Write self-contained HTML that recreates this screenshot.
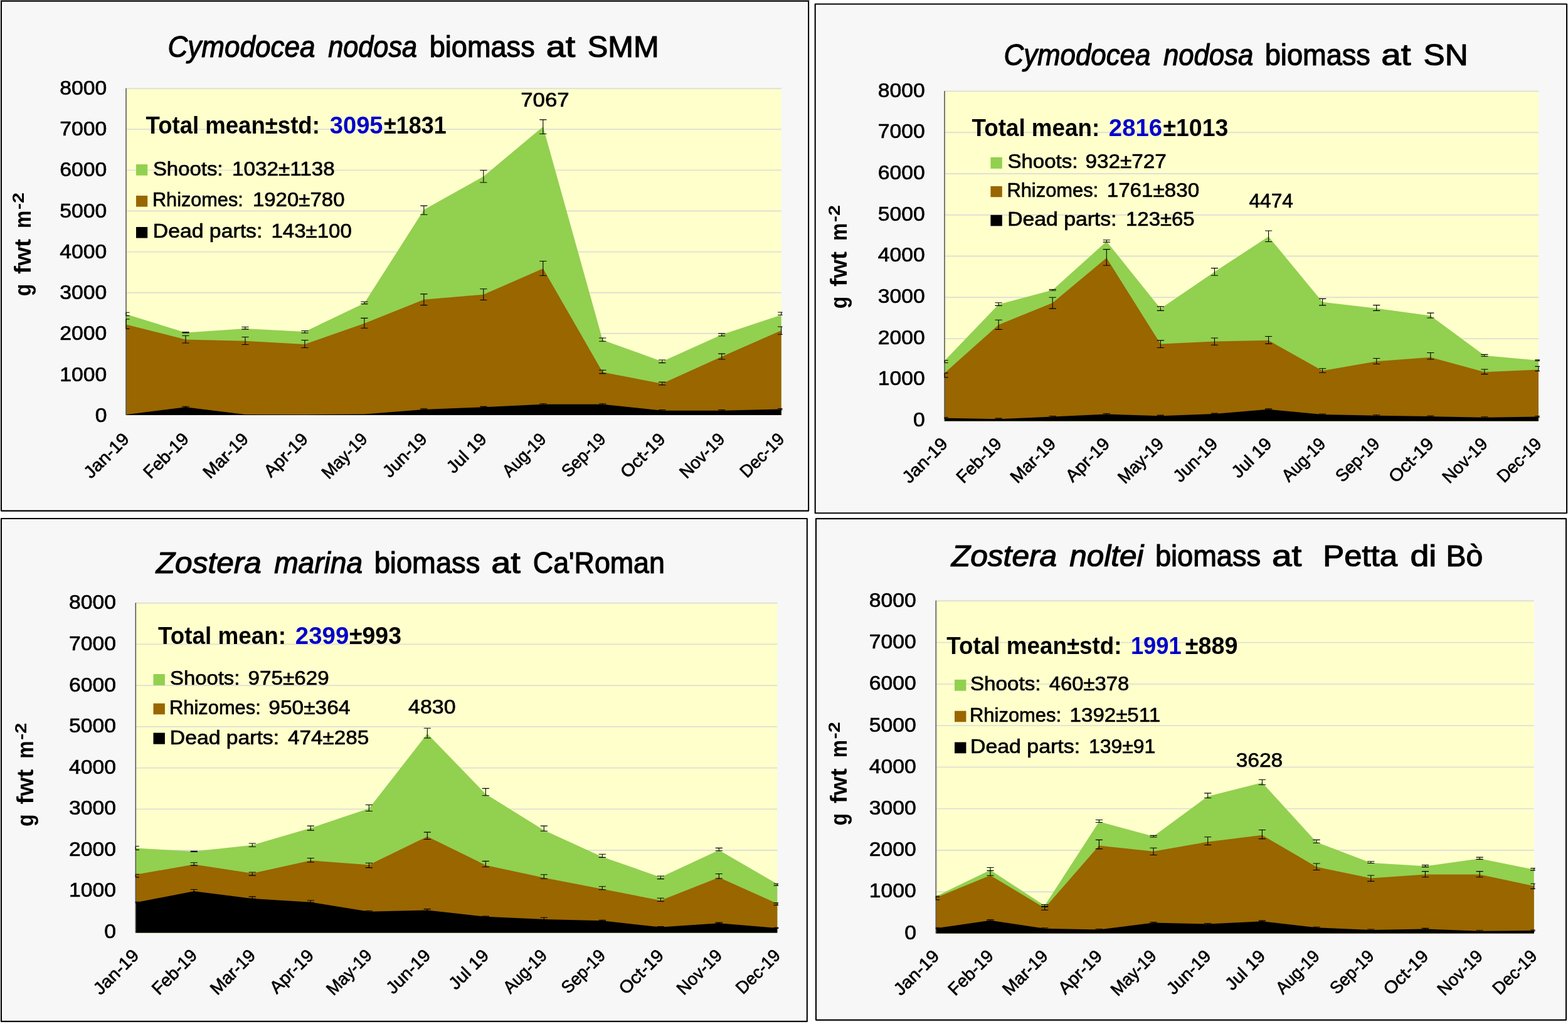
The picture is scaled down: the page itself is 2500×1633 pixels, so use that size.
<!DOCTYPE html>
<html lang="en"><head><meta charset="utf-8"><title>Seagrass biomass at four stations, 2019</title>
<style>html,body{margin:0;padding:0;background:#fff}body{width:2500px;height:1633px}svg{display:block}text{font-family:'Liberation Sans', sans-serif;fill:#000;stroke:#000;stroke-linejoin:round;paint-order:stroke}.title{font-size:47.5px;stroke-width:1.2}.total{font-size:39px;stroke-width:0}.legend{font-size:31px;stroke-width:0.7}.ytick{font-size:32px;stroke-width:0.7}.peak{font-size:31.5px;stroke-width:0.7}.xtick{font-size:28px;stroke-width:0.7}.ylabel{font-size:37.5px;stroke-width:0}.ysup{font-size:25px;stroke-width:0}</style>
</head><body>
<svg width="2500" height="1633" viewBox="0 0 2500 1633">
<rect width="2500" height="1633" fill="#fff"/>
<rect x="0" y="0" width="1291" height="1" fill="#aaa"/>
<g>
<rect x="2" y="1.7" width="1287.1" height="812.9" fill="#fff" stroke="#000" stroke-width="2.1" stroke-linejoin="round"/>
<rect x="4.7" y="4.4" width="1281.7" height="807.5" fill="#f7f7f7"/>
<rect x="201" y="141.2" width="1044.7" height="520.8" fill="#ffffcc"/>
<path d="M201 141.2H1245.7M201 206.3H1245.7M201 271.4H1245.7M201 336.5H1245.7M201 401.6H1245.7M201 466.7H1245.7M201 531.8H1245.7M201 596.9H1245.7" stroke="#e0e0d4" stroke-width="1.9" fill="none"/>
<polygon points="201,501.01 295.97,530.51 390.95,523.93 485.92,528.92 580.89,483.54 675.86,334.49 770.84,281.42 865.81,201.99 960.78,542.16 1055.75,576.47 1150.73,533.67 1245.7,502.18 1245.7,662 201,662" fill="#92d050"/>
<polygon points="201,517.57 295.97,541.4 390.95,543.67 485.92,548.89 580.89,515.76 675.86,477.77 770.84,469.63 865.81,428.24 960.78,593.45 1055.75,611.85 1150.73,568.69 1245.7,526.94 1245.7,662 201,662" fill="#996600"/>
<polygon points="201,661.21 295.97,649.18 390.95,660.98 485.92,661.21 580.89,660.53 675.86,652.89 770.84,649.35 865.81,644.75 960.78,644.75 1055.75,654.66 1150.73,654.66 1245.7,652.54 1245.7,662 201,662" fill="#000000"/>
<path d="M201 140.7V662" stroke="#595959" stroke-width="1.6" fill="none"/>
<path d="M201 498.28V503.5M201 498.28H206.6M201 503.5H206.6M295.97 529.6V530.96M290.37 529.6H301.57M290.37 530.96H301.57M390.95 521.43V524.83M385.35 521.43H396.55M385.35 524.83H396.55M485.92 527.56V530.96M480.32 527.56H491.52M480.32 530.96H491.52M580.89 481.27V484.67M575.29 481.27H586.49M575.29 484.67H586.49M675.86 328.12V342.27M670.26 328.12H681.46M670.26 342.27H681.46M770.84 271.51V290.97M765.24 271.51H776.44M765.24 290.97H776.44M865.81 190.85V213.49M860.21 190.85H871.41M860.21 213.49H871.41M960.78 538.97V544.28M955.18 538.97H966.38M955.18 544.28H966.38M1055.75 574V578.6M1050.15 574H1061.35M1050.15 578.6H1061.35M1150.73 531.9V535.79M1145.13 531.9H1156.33M1145.13 535.79H1156.33M1245.7 497.93V502.18M1240.1 497.93H1247.7M1240.1 502.18H1247.7M201 508.95V524.38M201 508.95H206.6M201 524.38H206.6M295.97 535.27V547.07M290.37 535.27H301.57M290.37 547.07H301.57M390.95 537.54V549.57M385.35 537.54H396.55M385.35 549.57H396.55M485.92 542.53V554.56M480.32 542.53H491.52M480.32 554.56H491.52M580.89 507.36V523.24M575.29 507.36H586.49M575.29 523.24H586.49M675.86 468.92V486.61M670.26 468.92H681.46M670.26 486.61H681.46M770.84 460.79V478.48M765.24 460.79H776.44M765.24 478.48H776.44M865.81 416.56V439.56M860.21 416.56H871.41M860.21 439.56H871.41M960.78 590.27V595.58M955.18 590.27H966.38M955.18 595.58H966.38M1055.75 609.37V613.97M1050.15 609.37H1061.35M1050.15 613.97H1061.35M1150.73 564.09V572.93M1145.13 564.09H1156.33M1145.13 572.93H1156.33M1245.7 520.93V533.31M1240.1 520.93H1247.7M1240.1 533.31H1247.7M295.97 648.18V650.18M290.37 648.18H301.57M290.37 650.18H301.57M675.86 651.89V653.89M670.26 651.89H681.46M670.26 653.89H681.46M770.84 648.35V650.35M765.24 648.35H776.44M765.24 650.35H776.44M865.81 643.75V645.75M860.21 643.75H871.41M860.21 645.75H871.41M960.78 643.75V645.75M955.18 643.75H966.38M955.18 645.75H966.38M1055.75 653.66V655.66M1050.15 653.66H1061.35M1050.15 655.66H1061.35M1150.73 653.66V655.66M1145.13 653.66H1156.33M1145.13 655.66H1156.33M1245.7 651.54V653.54M1240.1 651.54H1247.7M1240.1 653.54H1247.7" stroke="#000" stroke-width="1.1" fill="none"/>
<text class="ytick" transform="translate(95.28 150.9) scale(1.0548 1)">8000</text>
<text class="ytick" transform="translate(95.28 216.15) scale(1.0548 1)">7000</text>
<text class="ytick" transform="translate(95.28 281.4) scale(1.0548 1)">6000</text>
<text class="ytick" transform="translate(95.28 346.65) scale(1.0548 1)">5000</text>
<text class="ytick" transform="translate(95.28 411.9) scale(1.0548 1)">4000</text>
<text class="ytick" transform="translate(95.28 477.15) scale(1.0548 1)">3000</text>
<text class="ytick" transform="translate(95.28 542.4) scale(1.0548 1)">2000</text>
<text class="ytick" transform="translate(95.28 607.65) scale(1.0548 1)">1000</text>
<text class="ytick" transform="translate(151.65 672.9) scale(1.0548 1)">0</text>
<text class="xtick" transform="translate(206.8 702.8) rotate(-45) scale(1.0374 1)" x="-84.28">Jan-19</text>
<text class="xtick" transform="translate(301.77 702.8) rotate(-45) scale(0.9986 1)" x="-87.36">Feb-19</text>
<text class="xtick" transform="translate(396.75 702.8) rotate(-45) scale(0.9986 1)" x="-87.36">Mar-19</text>
<text class="xtick" transform="translate(491.72 702.8) rotate(-45) scale(1.0213 1)" x="-82.74">Apr-19</text>
<text class="xtick" transform="translate(586.69 702.8) rotate(-45) scale(0.9591 1)" x="-92.12">May-19</text>
<text class="xtick" transform="translate(681.66 702.8) rotate(-45) scale(1.0100 1)" x="-84.28">Jun-19</text>
<text class="xtick" transform="translate(776.64 702.8) rotate(-45) scale(1.0282 1)" x="-73.36">Jul 19</text>
<text class="xtick" transform="translate(871.61 702.8) rotate(-45) scale(0.9434 1)" x="-89.04">Aug-19</text>
<text class="xtick" transform="translate(966.58 702.8) rotate(-45) scale(0.9490 1)" x="-89.04">Sep-19</text>
<text class="xtick" transform="translate(1061.55 702.8) rotate(-45) scale(1.0457 1)" x="-82.74">Oct-19</text>
<text class="xtick" transform="translate(1156.53 702.8) rotate(-45) scale(0.9816 1)" x="-89.04">Nov-19</text>
<text class="xtick" transform="translate(1251.5 702.8) rotate(-45) scale(0.9608 1)" x="-89.04">Dec-19</text>
<text class="ylabel" font-weight="bold" transform="translate(48.8 471) rotate(-90)"><tspan x="-1.28" textLength="19.6" lengthAdjust="spacingAndGlyphs">g</tspan> <tspan x="34.02" textLength="55.92" lengthAdjust="spacingAndGlyphs">fwt</tspan> <tspan x="106.94" textLength="28.24" lengthAdjust="spacingAndGlyphs">m</tspan><tspan x="136.78" textLength="27.11" lengthAdjust="spacingAndGlyphs" dy="-11.3" font-size="25">-2</tspan></text>
<text class="title" y="91.3"><tspan x="267.58" textLength="234.8" lengthAdjust="spacingAndGlyphs" font-style="italic">Cymodocea</tspan> <tspan x="523.25" textLength="141.79" lengthAdjust="spacingAndGlyphs" font-style="italic">nodosa</tspan> <tspan x="684.67" textLength="168.05" lengthAdjust="spacingAndGlyphs">biomass</tspan> <tspan x="870.67" textLength="46.53" lengthAdjust="spacingAndGlyphs">at</tspan> <tspan x="936.8" textLength="113.85" lengthAdjust="spacingAndGlyphs">SMM</tspan></text>
<text class="total" font-weight="bold" y="213.3"><tspan x="232.53" textLength="277.29" lengthAdjust="spacingAndGlyphs">Total mean±std:</tspan> <tspan x="525.85" textLength="84.69" lengthAdjust="spacingAndGlyphs" style="fill:#0000cc;stroke:#0000cc">3095</tspan><tspan x="612.1" textLength="99.52" lengthAdjust="spacingAndGlyphs">±1831</tspan></text>
<rect x="217" y="262.1" width="18.2" height="17.7" fill="#92d050"/>
<text class="legend" y="280.3"><tspan x="243.92" textLength="111.58" lengthAdjust="spacingAndGlyphs">Shoots:</tspan> <tspan x="370.01" textLength="163.69" lengthAdjust="spacingAndGlyphs">1032±1138</tspan></text>
<rect x="217" y="312" width="18.2" height="17.7" fill="#996600"/>
<text class="legend" y="329"><tspan x="242.95" textLength="144.82" lengthAdjust="spacingAndGlyphs">Rhizomes:</tspan> <tspan x="402.92" textLength="146.59" lengthAdjust="spacingAndGlyphs">1920±780</tspan></text>
<rect x="217" y="362" width="18.2" height="17.6" fill="#000000"/>
<text class="legend" y="379"><tspan x="243.8" textLength="174.49" lengthAdjust="spacingAndGlyphs">Dead parts:</tspan> <tspan x="432.42" textLength="128.46" lengthAdjust="spacingAndGlyphs">143±100</tspan></text>
<text class="peak" transform="translate(830.26 169.6) scale(1.1055 1)">7067</text>
</g>
<g>
<rect x="1299.7" y="6.5" width="1198.3" height="811.8" fill="#fff" stroke="#000" stroke-width="2.1" stroke-linejoin="round"/>
<rect x="1302.4" y="9.2" width="1192.9" height="806.4" fill="#f7f7f7"/>
<rect x="1506" y="145.5" width="947" height="526.1" fill="#ffffcc"/>
<path d="M1506 145.5H2453M1506 211.26H2453M1506 277.02H2453M1506 342.79H2453M1506 408.55H2453M1506 474.31H2453M1506 540.08H2453M1506 605.84H2453" stroke="#e0e0d4" stroke-width="1.9" fill="none"/>
<polygon points="1506,575.24 1592.09,485.58 1678.18,462.62 1764.27,384.99 1850.36,492.14 1936.45,433.53 2022.55,377.33 2108.64,481.64 2194.73,491.7 2280.82,503.51 2366.91,566.93 2453,574.8 2453,671.6 1506,671.6" fill="#92d050"/>
<polygon points="1506,594.92 1592.09,517.94 1678.18,482.95 1764.27,411.23 1850.36,548.56 1936.45,544.62 2022.55,542.87 2108.64,591.2 2194.73,576.33 2280.82,569.77 2366.91,593.17 2453,589.45 2453,671.6 1506,671.6" fill="#996600"/>
<polygon points="1506,666.64 1592.09,668.17 1678.18,664.45 1764.27,660.52 1850.36,663.14 1936.45,660.08 2022.55,652.86 2108.64,660.96 2194.73,662.71 2280.82,664.02 2366.91,665.77 2453,664.45 2453,671.6 1506,671.6" fill="#000000"/>
<path d="M1506 145V671.6" stroke="#595959" stroke-width="1.6" fill="none"/>
<path d="M1506 574.8V578.52M1506 574.8H1511.6M1506 578.52H1511.6M1592.09 482.74V487.33M1586.49 482.74H1597.69M1586.49 487.33H1597.69M1678.18 461.52V463.27M1672.58 461.52H1683.78M1672.58 463.27H1683.78M1764.27 382.8V386.08M1758.67 382.8H1769.87M1758.67 386.08H1769.87M1850.36 488.86V495.42M1844.76 488.86H1855.96M1844.76 495.42H1855.96M1936.45 427.63V439.22M1930.85 427.63H1942.05M1930.85 439.22H1942.05M2022.55 367.93V385.43M2016.95 367.93H2028.15M2016.95 385.43H2028.15M2108.64 476.39V486.89M2103.04 476.39H2114.24M2103.04 486.89H2114.24M2194.73 486.67V495.42M2189.13 486.67H2200.33M2189.13 495.42H2200.33M2280.82 499.14V507.01M2275.22 499.14H2286.42M2275.22 507.01H2286.42M2366.91 565.39V568.24M2361.31 565.39H2372.51M2361.31 568.24H2372.51M2453 573.92V575.45M2447.4 573.92H2455M2447.4 575.45H2455M1506 594.92V601.91M1506 594.92H1511.6M1506 601.91H1511.6M1592.09 510.29V525.38M1586.49 510.29H1597.69M1586.49 525.38H1597.69M1678.18 474.21V492.14M1672.58 474.21H1683.78M1672.58 492.14H1683.78M1764.27 397.67V423.26M1758.67 397.67H1769.87M1758.67 423.26H1769.87M1850.36 542.87V554.46M1844.76 542.87H1855.96M1844.76 554.46H1855.96M1936.45 538.94V550.31M1930.85 538.94H1942.05M1930.85 550.31H1942.05M2022.55 536.53V548.12M2016.95 536.53H2028.15M2016.95 548.12H2028.15M2108.64 587.7V594.26M2103.04 587.7H2114.24M2103.04 594.26H2114.24M2194.73 571.52V580.48M2189.13 571.52H2200.33M2189.13 580.48H2200.33M2280.82 562.55V573.05M2275.22 562.55H2286.42M2275.22 573.05H2286.42M2366.91 589.01V596.67M2361.31 589.01H2372.51M2361.31 596.67H2372.51M2453 584.42V591.64M2447.4 584.42H2455M2447.4 591.64H2455M1506 665.64V667.64M1506 665.64H1511.6M1506 667.64H1511.6M1592.09 667.17V669.17M1586.49 667.17H1597.69M1586.49 669.17H1597.69M1678.18 663.45V665.45M1672.58 663.45H1683.78M1672.58 665.45H1683.78M1764.27 659.52V661.52M1758.67 659.52H1769.87M1758.67 661.52H1769.87M1850.36 662.14V664.14M1844.76 662.14H1855.96M1844.76 664.14H1855.96M1936.45 659.08V661.08M1930.85 659.08H1942.05M1930.85 661.08H1942.05M2022.55 651.86V653.86M2016.95 651.86H2028.15M2016.95 653.86H2028.15M2108.64 659.96V661.96M2103.04 659.96H2114.24M2103.04 661.96H2114.24M2194.73 661.71V663.71M2189.13 661.71H2200.33M2189.13 663.71H2200.33M2280.82 663.02V665.02M2275.22 663.02H2286.42M2275.22 665.02H2286.42M2366.91 664.77V666.77M2361.31 664.77H2372.51M2361.31 666.77H2372.51M2453 663.45V665.45M2447.4 663.45H2455M2447.4 665.45H2455" stroke="#000" stroke-width="1.1" fill="none"/>
<text class="ytick" transform="translate(1399.68 154.5) scale(1.0548 1)">8000</text>
<text class="ytick" transform="translate(1399.68 220.2) scale(1.0548 1)">7000</text>
<text class="ytick" transform="translate(1399.68 285.9) scale(1.0548 1)">6000</text>
<text class="ytick" transform="translate(1399.68 351.6) scale(1.0548 1)">5000</text>
<text class="ytick" transform="translate(1399.68 417.3) scale(1.0548 1)">4000</text>
<text class="ytick" transform="translate(1399.68 483) scale(1.0548 1)">3000</text>
<text class="ytick" transform="translate(1399.68 548.7) scale(1.0548 1)">2000</text>
<text class="ytick" transform="translate(1399.68 614.4) scale(1.0548 1)">1000</text>
<text class="ytick" transform="translate(1456.05 680.1) scale(1.0548 1)">0</text>
<text class="xtick" transform="translate(1511.8 710.4) rotate(-45) scale(1.0374 1)" x="-84.28">Jan-19</text>
<text class="xtick" transform="translate(1597.89 710.4) rotate(-45) scale(0.9986 1)" x="-87.36">Feb-19</text>
<text class="xtick" transform="translate(1683.98 710.4) rotate(-45) scale(0.9986 1)" x="-87.36">Mar-19</text>
<text class="xtick" transform="translate(1770.07 710.4) rotate(-45) scale(1.0213 1)" x="-82.74">Apr-19</text>
<text class="xtick" transform="translate(1856.16 710.4) rotate(-45) scale(0.9591 1)" x="-92.12">May-19</text>
<text class="xtick" transform="translate(1942.25 710.4) rotate(-45) scale(1.0100 1)" x="-84.28">Jun-19</text>
<text class="xtick" transform="translate(2028.35 710.4) rotate(-45) scale(1.0282 1)" x="-73.36">Jul 19</text>
<text class="xtick" transform="translate(2114.44 710.4) rotate(-45) scale(0.9434 1)" x="-89.04">Aug-19</text>
<text class="xtick" transform="translate(2200.53 710.4) rotate(-45) scale(0.9490 1)" x="-89.04">Sep-19</text>
<text class="xtick" transform="translate(2286.62 710.4) rotate(-45) scale(1.0457 1)" x="-82.74">Oct-19</text>
<text class="xtick" transform="translate(2372.71 710.4) rotate(-45) scale(0.9816 1)" x="-89.04">Nov-19</text>
<text class="xtick" transform="translate(2458.8 710.4) rotate(-45) scale(0.9608 1)" x="-89.04">Dec-19</text>
<text class="ylabel" font-weight="bold" transform="translate(1350.2 491) rotate(-90)"><tspan x="-1.28" textLength="19.6" lengthAdjust="spacingAndGlyphs">g</tspan> <tspan x="34.02" textLength="55.92" lengthAdjust="spacingAndGlyphs">fwt</tspan> <tspan x="106.94" textLength="28.24" lengthAdjust="spacingAndGlyphs">m</tspan><tspan x="136.78" textLength="27.11" lengthAdjust="spacingAndGlyphs" dy="-11.3" font-size="25">-2</tspan></text>
<text class="title" y="103.9"><tspan x="1600.49" textLength="233.89" lengthAdjust="spacingAndGlyphs" font-style="italic">Cymodocea</tspan> <tspan x="1854.94" textLength="143.42" lengthAdjust="spacingAndGlyphs" font-style="italic">nodosa</tspan> <tspan x="2016.76" textLength="168.16" lengthAdjust="spacingAndGlyphs">biomass</tspan> <tspan x="2202.24" textLength="47.17" lengthAdjust="spacingAndGlyphs">at</tspan> <tspan x="2269.5" textLength="71.11" lengthAdjust="spacingAndGlyphs">SN</tspan></text>
<text class="total" font-weight="bold" y="217"><tspan x="1549.53" textLength="203.66" lengthAdjust="spacingAndGlyphs">Total mean:</tspan> <tspan x="1767.86" textLength="85.17" lengthAdjust="spacingAndGlyphs" style="fill:#0000cc;stroke:#0000cc">2816</tspan><tspan x="1854.57" textLength="103.67" lengthAdjust="spacingAndGlyphs">±1013</tspan></text>
<rect x="1579.4" y="250.8" width="18.4" height="18.1" fill="#92d050"/>
<text class="legend" y="268.4"><tspan x="1606.41" textLength="112.1" lengthAdjust="spacingAndGlyphs">Shoots:</tspan> <tspan x="1730.4" textLength="129.29" lengthAdjust="spacingAndGlyphs">932±727</tspan></text>
<rect x="1579.4" y="296.9" width="18.4" height="17.4" fill="#996600"/>
<text class="legend" y="313.8"><tspan x="1605.43" textLength="145.76" lengthAdjust="spacingAndGlyphs">Rhizomes:</tspan> <tspan x="1764.71" textLength="147.41" lengthAdjust="spacingAndGlyphs">1761±830</tspan></text>
<rect x="1579.4" y="342.8" width="18.4" height="17.6" fill="#000000"/>
<text class="legend" y="360.4"><tspan x="1606.2" textLength="174.28" lengthAdjust="spacingAndGlyphs">Dead parts:</tspan> <tspan x="1795.03" textLength="109.68" lengthAdjust="spacingAndGlyphs">123±65</tspan></text>
<text class="peak" transform="translate(1991.47 331.4) scale(1.0042 1)">4474</text>
</g>
<g>
<rect x="2" y="827" width="1284.8" height="801.9" fill="#fff" stroke="#000" stroke-width="2.1" stroke-linejoin="round"/>
<rect x="4.7" y="829.7" width="1279.4" height="796.5" fill="#f7f7f7"/>
<rect x="216.3" y="961.7" width="1023" height="525.8" fill="#ffffcc"/>
<path d="M216.3 961.7H1239.3M216.3 1027.42H1239.3M216.3 1093.15H1239.3M216.3 1158.88H1239.3M216.3 1224.6H1239.3M216.3 1290.33H1239.3M216.3 1356.05H1239.3M216.3 1421.78H1239.3" stroke="#e0e0d4" stroke-width="1.9" fill="none"/>
<polygon points="216.3,1352.57 309.3,1357.67 402.3,1347.71 495.3,1320.62 588.3,1289.36 681.3,1170.1 774.3,1266.2 867.3,1324.09 960.3,1366.47 1053.3,1398.89 1146.3,1355.82 1239.3,1409.77 1239.3,1487.5 216.3,1487.5" fill="#92d050"/>
<polygon points="216.3,1394.72 309.3,1378.51 402.3,1392.87 495.3,1372.26 588.3,1379.2 681.3,1334.05 774.3,1379.67 867.3,1399.81 960.3,1417.87 1053.3,1435.94 1146.3,1399.35 1239.3,1441.03 1239.3,1487.5 216.3,1487.5" fill="#996600"/>
<polygon points="216.3,1439.18 309.3,1421.35 402.3,1432.93 495.3,1438.71 588.3,1453.77 681.3,1451.45 774.3,1461.87 867.3,1466.04 960.3,1468.35 1053.3,1478.54 1146.3,1472.29 1239.3,1479.93 1239.3,1487.5 216.3,1487.5" fill="#000000"/>
<path d="M216.3 961.2V1487.5" stroke="#595959" stroke-width="1.6" fill="none"/>
<path d="M216.3 1349.56V1355.35M216.3 1349.56H221.9M216.3 1355.35H221.9M309.3 1357.21V1358.36M303.7 1357.21H314.9M303.7 1358.36H314.9M402.3 1344.93V1350.26M396.7 1344.93H407.9M396.7 1350.26H407.9M495.3 1317.14V1324.09M489.7 1317.14H500.9M489.7 1324.09H500.9M588.3 1283.57V1293.53M582.7 1283.57H593.9M582.7 1293.53H593.9M681.3 1161.3V1177.05M675.7 1161.3H686.9M675.7 1177.05H686.9M774.3 1257.4V1268.75M768.7 1257.4H779.9M768.7 1268.75H779.9M867.3 1317.14V1325.25M861.7 1317.14H872.9M861.7 1325.25H872.9M960.3 1362.3V1367.39M954.7 1362.3H965.9M954.7 1367.39H965.9M1053.3 1397.03V1401.66M1047.7 1397.03H1058.9M1047.7 1401.66H1058.9M1146.3 1352.34V1356.74M1140.7 1352.34H1151.9M1140.7 1356.74H1151.9M1239.3 1409.31V1412.09M1233.7 1409.31H1241.3M1233.7 1412.09H1241.3M216.3 1394.25V1398.89M216.3 1394.25H221.9M216.3 1398.89H221.9M309.3 1375.73V1380.13M303.7 1375.73H314.9M303.7 1380.13H314.9M402.3 1391.01V1396.11M396.7 1391.01H407.9M396.7 1396.11H407.9M495.3 1368.55V1375.04M489.7 1368.55H500.9M489.7 1375.04H500.9M588.3 1376.19V1383.6M582.7 1376.19H593.9M582.7 1383.6H593.9M681.3 1327.1V1338.45M675.7 1327.1H686.9M675.7 1338.45H686.9M774.3 1373.41V1382.45M768.7 1373.41H779.9M768.7 1382.45H779.9M867.3 1394.72V1401.2M861.7 1394.72H872.9M861.7 1401.2H872.9M960.3 1413.71V1418.8M954.7 1413.71H965.9M954.7 1418.8H965.9M1053.3 1432.23V1437.56M1047.7 1432.23H1058.9M1047.7 1437.56H1058.9M1146.3 1393.56V1400.97M1140.7 1393.56H1151.9M1140.7 1400.97H1151.9M1239.3 1439.87V1443.35M1233.7 1439.87H1241.3M1233.7 1443.35H1241.3M216.3 1438.25V1440.1M216.3 1438.25H221.9M216.3 1440.1H221.9M309.3 1418.57V1422.51M303.7 1418.57H314.9M303.7 1422.51H314.9M402.3 1429.92V1433.39M396.7 1429.92H407.9M396.7 1433.39H407.9M495.3 1435.94V1439.41M489.7 1435.94H500.9M489.7 1439.41H500.9M588.3 1452.61V1454.46M582.7 1452.61H593.9M582.7 1454.46H593.9M681.3 1449.6V1452.61M675.7 1449.6H686.9M675.7 1452.61H686.9M774.3 1460.94V1462.33M768.7 1460.94H779.9M768.7 1462.33H779.9M867.3 1463.26V1466.5M861.7 1463.26H872.9M861.7 1466.5H872.9M960.3 1467.2V1468.82M954.7 1467.2H965.9M954.7 1468.82H965.9M1053.3 1477.62V1479.01M1047.7 1477.62H1058.9M1047.7 1479.01H1058.9M1146.3 1471.13V1472.99M1140.7 1471.13H1151.9M1140.7 1472.99H1151.9M1239.3 1479.24V1480.4M1233.7 1479.24H1241.3M1233.7 1480.4H1241.3" stroke="#000" stroke-width="1.1" fill="none"/>
<text class="ytick" transform="translate(109.88 971.4) scale(1.0548 1)">8000</text>
<text class="ytick" transform="translate(109.88 1036.98) scale(1.0548 1)">7000</text>
<text class="ytick" transform="translate(109.88 1102.55) scale(1.0548 1)">6000</text>
<text class="ytick" transform="translate(109.88 1168.12) scale(1.0548 1)">5000</text>
<text class="ytick" transform="translate(109.88 1233.7) scale(1.0548 1)">4000</text>
<text class="ytick" transform="translate(109.88 1299.28) scale(1.0548 1)">3000</text>
<text class="ytick" transform="translate(109.88 1364.85) scale(1.0548 1)">2000</text>
<text class="ytick" transform="translate(109.88 1430.42) scale(1.0548 1)">1000</text>
<text class="ytick" transform="translate(166.25 1496) scale(1.0548 1)">0</text>
<text class="xtick" transform="translate(222.1 1526.3) rotate(-45) scale(1.0374 1)" x="-84.28">Jan-19</text>
<text class="xtick" transform="translate(315.1 1526.3) rotate(-45) scale(0.9986 1)" x="-87.36">Feb-19</text>
<text class="xtick" transform="translate(408.1 1526.3) rotate(-45) scale(0.9986 1)" x="-87.36">Mar-19</text>
<text class="xtick" transform="translate(501.1 1526.3) rotate(-45) scale(1.0213 1)" x="-82.74">Apr-19</text>
<text class="xtick" transform="translate(594.1 1526.3) rotate(-45) scale(0.9591 1)" x="-92.12">May-19</text>
<text class="xtick" transform="translate(687.1 1526.3) rotate(-45) scale(1.0100 1)" x="-84.28">Jun-19</text>
<text class="xtick" transform="translate(780.1 1526.3) rotate(-45) scale(1.0282 1)" x="-73.36">Jul 19</text>
<text class="xtick" transform="translate(873.1 1526.3) rotate(-45) scale(0.9434 1)" x="-89.04">Aug-19</text>
<text class="xtick" transform="translate(966.1 1526.3) rotate(-45) scale(0.9490 1)" x="-89.04">Sep-19</text>
<text class="xtick" transform="translate(1059.1 1526.3) rotate(-45) scale(1.0457 1)" x="-82.74">Oct-19</text>
<text class="xtick" transform="translate(1152.1 1526.3) rotate(-45) scale(0.9816 1)" x="-89.04">Nov-19</text>
<text class="xtick" transform="translate(1245.1 1526.3) rotate(-45) scale(0.9608 1)" x="-89.04">Dec-19</text>
<text class="ylabel" font-weight="bold" transform="translate(53 1316.7) rotate(-90)"><tspan x="-1.28" textLength="19.6" lengthAdjust="spacingAndGlyphs">g</tspan> <tspan x="34.02" textLength="55.92" lengthAdjust="spacingAndGlyphs">fwt</tspan> <tspan x="106.94" textLength="28.24" lengthAdjust="spacingAndGlyphs">m</tspan><tspan x="136.78" textLength="27.11" lengthAdjust="spacingAndGlyphs" dy="-11.3" font-size="25">-2</tspan></text>
<text class="title" y="914.3"><tspan x="248.89" textLength="167.85" lengthAdjust="spacingAndGlyphs" font-style="italic">Zostera</tspan> <tspan x="437.21" textLength="140.88" lengthAdjust="spacingAndGlyphs" font-style="italic">marina</tspan> <tspan x="596.65" textLength="168.77" lengthAdjust="spacingAndGlyphs">biomass</tspan> <tspan x="783.16" textLength="46.64" lengthAdjust="spacingAndGlyphs">at</tspan> <tspan x="849.86" textLength="209.98" lengthAdjust="spacingAndGlyphs">Ca'Roman</tspan></text>
<text class="total" font-weight="bold" y="1026.6"><tspan x="252.03" textLength="204.07" lengthAdjust="spacingAndGlyphs">Total mean:</tspan> <tspan x="470.86" textLength="85.37" lengthAdjust="spacingAndGlyphs" style="fill:#0000cc;stroke:#0000cc">2399</tspan><tspan x="556.96" textLength="83.03" lengthAdjust="spacingAndGlyphs">±993</tspan></text>
<rect x="244.5" y="1075" width="18.4" height="17.9" fill="#92d050"/>
<text class="legend" y="1092.2"><tspan x="271.02" textLength="111.37" lengthAdjust="spacingAndGlyphs">Shoots:</tspan> <tspan x="395.61" textLength="129.01" lengthAdjust="spacingAndGlyphs">975±629</tspan></text>
<rect x="244.5" y="1121.7" width="18.4" height="17.6" fill="#996600"/>
<text class="legend" y="1139.3"><tspan x="270.03" textLength="145.76" lengthAdjust="spacingAndGlyphs">Rhizomes:</tspan> <tspan x="428.29" textLength="130.14" lengthAdjust="spacingAndGlyphs">950±364</tspan></text>
<rect x="244.5" y="1168.6" width="18.4" height="18.1" fill="#000000"/>
<text class="legend" y="1186.7"><tspan x="270.8" textLength="174.28" lengthAdjust="spacingAndGlyphs">Dead parts:</tspan> <tspan x="458.93" textLength="129.32" lengthAdjust="spacingAndGlyphs">474±285</tspan></text>
<text class="peak" transform="translate(651.02 1137.6) scale(1.0797 1)">4830</text>
</g>
<g>
<rect x="1301" y="827.1" width="1196" height="799.5" fill="#fff" stroke="#000" stroke-width="2.1" stroke-linejoin="round"/>
<rect x="1303.7" y="829.8" width="1190.6" height="794.1" fill="#f7f7f7"/>
<rect x="1492.3" y="958.3" width="953.5" height="530.2" fill="#ffffcc"/>
<path d="M1492.3 958.3H2445.8M1492.3 1024.58H2445.8M1492.3 1090.85H2445.8M1492.3 1157.12H2445.8M1492.3 1223.4H2445.8M1492.3 1289.67H2445.8M1492.3 1355.95H2445.8M1492.3 1422.22H2445.8" stroke="#e0e0d4" stroke-width="1.9" fill="none"/>
<polygon points="1492.3,1429.41 1578.98,1387.46 1665.66,1444.26 1752.35,1310.33 1839.03,1333.71 1925.71,1269.91 2012.39,1248.07 2099.07,1343.11 2185.75,1375.88 2272.44,1381.34 2359.12,1369.32 2445.8,1386.8 2445.8,1488.5 1492.3,1488.5" fill="#92d050"/>
<polygon points="1492.3,1431.59 1578.98,1395.98 1665.66,1447.98 1752.35,1348.57 1839.03,1357.75 1925.71,1342.45 2012.39,1331.75 2099.07,1382.43 2185.75,1400.57 2272.44,1394.45 2359.12,1394.45 2445.8,1413.02 2445.8,1488.5 1492.3,1488.5" fill="#996600"/>
<polygon points="1492.3,1480.31 1578.98,1467.64 1665.66,1480.75 1752.35,1482.5 1839.03,1471.58 1925.71,1473.54 2012.39,1469.17 2099.07,1479.22 2185.75,1482.94 2272.44,1481.41 2359.12,1484.68 2445.8,1484.03 2445.8,1488.5 1492.3,1488.5" fill="#000000"/>
<path d="M1492.3 957.8V1488.5" stroke="#595959" stroke-width="1.6" fill="none"/>
<path d="M1492.3 1428.97V1430.5M1492.3 1428.97H1497.9M1492.3 1430.5H1497.9M1578.98 1383.53V1388.33M1573.38 1383.53H1584.58M1573.38 1388.33H1584.58M1665.66 1442.52V1445.14M1660.06 1442.52H1671.26M1660.06 1445.14H1671.26M1752.35 1307.49V1311.43M1746.75 1307.49H1757.95M1746.75 1311.43H1757.95M1839.03 1332.4V1335.02M1833.43 1332.4H1844.63M1833.43 1335.02H1844.63M1925.71 1264.89V1272.54M1920.11 1264.89H1931.31M1920.11 1272.54H1931.31M2012.39 1243.26V1251.56M2006.79 1243.26H2017.99M2006.79 1251.56H2017.99M2099.07 1339.39V1344.2M2093.47 1339.39H2104.67M2093.47 1344.2H2104.67M2185.75 1373.69V1376.53M2180.15 1373.69H2191.35M2180.15 1376.53H2191.35M2272.44 1379.59V1382.65M2266.84 1379.59H2278.04M2266.84 1382.65H2278.04M2359.12 1367.14V1370.42M2353.52 1367.14H2364.72M2353.52 1370.42H2364.72M2445.8 1384.62V1387.9M2440.2 1384.62H2447.8M2440.2 1387.9H2447.8M1492.3 1430.5V1434.87M1492.3 1430.5H1497.9M1492.3 1434.87H1497.9M1578.98 1388.33V1396.2M1573.38 1388.33H1584.58M1573.38 1396.2H1584.58M1665.66 1446.23V1451.26M1660.06 1446.23H1671.26M1660.06 1451.26H1671.26M1752.35 1339.39V1353.59M1746.75 1339.39H1757.95M1746.75 1353.59H1757.95M1839.03 1352.28V1363.43M1833.43 1352.28H1844.63M1833.43 1363.43H1844.63M1925.71 1334.8V1347.48M1920.11 1334.8H1931.31M1920.11 1347.48H1931.31M2012.39 1323.44V1337.64M2006.79 1323.44H2017.99M2006.79 1337.64H2017.99M2099.07 1376.97V1387.46M2093.47 1376.97H2104.67M2093.47 1387.46H2104.67M2185.75 1395.98V1405.37M2180.15 1395.98H2191.35M2180.15 1405.37H2191.35M2272.44 1389.64V1398.82M2266.84 1389.64H2278.04M2266.84 1398.82H2278.04M2359.12 1389.64V1398.82M2353.52 1389.64H2364.72M2353.52 1398.82H2364.72M2445.8 1409.31V1417.39M2440.2 1409.31H2447.8M2440.2 1417.39H2447.8M1492.3 1479.31V1481.31M1492.3 1479.31H1497.9M1492.3 1481.31H1497.9M1578.98 1466.64V1468.64M1573.38 1466.64H1584.58M1573.38 1468.64H1584.58M1665.66 1479.75V1481.75M1660.06 1479.75H1671.26M1660.06 1481.75H1671.26M1752.35 1481.5V1483.5M1746.75 1481.5H1757.95M1746.75 1483.5H1757.95M1839.03 1470.58V1472.58M1833.43 1470.58H1844.63M1833.43 1472.58H1844.63M1925.71 1472.54V1474.54M1920.11 1472.54H1931.31M1920.11 1474.54H1931.31M2012.39 1468.17V1470.17M2006.79 1468.17H2017.99M2006.79 1470.17H2017.99M2099.07 1478.22V1480.22M2093.47 1478.22H2104.67M2093.47 1480.22H2104.67M2185.75 1481.94V1483.94M2180.15 1481.94H2191.35M2180.15 1483.94H2191.35M2272.44 1480.41V1482.41M2266.84 1480.41H2278.04M2266.84 1482.41H2278.04M2359.12 1483.68V1485.68M2353.52 1483.68H2364.72M2353.52 1485.68H2364.72M2445.8 1483.03V1485.03M2440.2 1483.03H2447.8M2440.2 1485.03H2447.8" stroke="#000" stroke-width="1.1" fill="none"/>
<text class="ytick" transform="translate(1385.78 968.1) scale(1.0548 1)">8000</text>
<text class="ytick" transform="translate(1385.78 1034.28) scale(1.0548 1)">7000</text>
<text class="ytick" transform="translate(1385.78 1100.45) scale(1.0548 1)">6000</text>
<text class="ytick" transform="translate(1385.78 1166.62) scale(1.0548 1)">5000</text>
<text class="ytick" transform="translate(1385.78 1232.8) scale(1.0548 1)">4000</text>
<text class="ytick" transform="translate(1385.78 1298.98) scale(1.0548 1)">3000</text>
<text class="ytick" transform="translate(1385.78 1365.15) scale(1.0548 1)">2000</text>
<text class="ytick" transform="translate(1385.78 1431.33) scale(1.0548 1)">1000</text>
<text class="ytick" transform="translate(1442.15 1497.5) scale(1.0548 1)">0</text>
<text class="xtick" transform="translate(1498.1 1527.3) rotate(-45) scale(1.0374 1)" x="-84.28">Jan-19</text>
<text class="xtick" transform="translate(1584.78 1527.3) rotate(-45) scale(0.9986 1)" x="-87.36">Feb-19</text>
<text class="xtick" transform="translate(1671.46 1527.3) rotate(-45) scale(0.9986 1)" x="-87.36">Mar-19</text>
<text class="xtick" transform="translate(1758.15 1527.3) rotate(-45) scale(1.0213 1)" x="-82.74">Apr-19</text>
<text class="xtick" transform="translate(1844.83 1527.3) rotate(-45) scale(0.9591 1)" x="-92.12">May-19</text>
<text class="xtick" transform="translate(1931.51 1527.3) rotate(-45) scale(1.0100 1)" x="-84.28">Jun-19</text>
<text class="xtick" transform="translate(2018.19 1527.3) rotate(-45) scale(1.0282 1)" x="-73.36">Jul 19</text>
<text class="xtick" transform="translate(2104.87 1527.3) rotate(-45) scale(0.9434 1)" x="-89.04">Aug-19</text>
<text class="xtick" transform="translate(2191.55 1527.3) rotate(-45) scale(0.9490 1)" x="-89.04">Sep-19</text>
<text class="xtick" transform="translate(2278.24 1527.3) rotate(-45) scale(1.0457 1)" x="-82.74">Oct-19</text>
<text class="xtick" transform="translate(2364.92 1527.3) rotate(-45) scale(0.9816 1)" x="-89.04">Nov-19</text>
<text class="xtick" transform="translate(2451.6 1527.3) rotate(-45) scale(0.9608 1)" x="-89.04">Dec-19</text>
<text class="ylabel" font-weight="bold" transform="translate(1350.2 1315.3) rotate(-90)"><tspan x="-1.28" textLength="19.6" lengthAdjust="spacingAndGlyphs">g</tspan> <tspan x="34.02" textLength="55.92" lengthAdjust="spacingAndGlyphs">fwt</tspan> <tspan x="106.94" textLength="28.24" lengthAdjust="spacingAndGlyphs">m</tspan><tspan x="136.78" textLength="27.22" lengthAdjust="spacingAndGlyphs" dy="-11.3" font-size="25">-2</tspan></text>
<text class="title" y="902.9"><tspan x="1516.89" textLength="168.25" lengthAdjust="spacingAndGlyphs" font-style="italic">Zostera</tspan> <tspan x="1705.36" textLength="117.94" lengthAdjust="spacingAndGlyphs" font-style="italic">noltei</tspan> <tspan x="1841.96" textLength="168.16" lengthAdjust="spacingAndGlyphs">biomass</tspan> <tspan x="2027.93" textLength="47.38" lengthAdjust="spacingAndGlyphs">at</tspan> <tspan x="2109.33" textLength="118.66" lengthAdjust="spacingAndGlyphs">Petta</tspan> <tspan x="2248.45" textLength="41.82" lengthAdjust="spacingAndGlyphs">di</tspan> <tspan x="2305.45" textLength="58.82" lengthAdjust="spacingAndGlyphs">Bò</tspan></text>
<text class="total" font-weight="bold" y="1042.9"><tspan x="1509.33" textLength="279.22" lengthAdjust="spacingAndGlyphs">Total mean±std:</tspan> <tspan x="1802.92" textLength="80.77" lengthAdjust="spacingAndGlyphs" style="fill:#0000cc;stroke:#0000cc">1991</tspan><tspan x="1889.86" textLength="83.55" lengthAdjust="spacingAndGlyphs">±889</tspan></text>
<rect x="1522" y="1083.8" width="18.4" height="17.9" fill="#92d050"/>
<text class="legend" y="1100.9"><tspan x="1547.01" textLength="112.41" lengthAdjust="spacingAndGlyphs">Shoots:</tspan> <tspan x="1672.84" textLength="127.29" lengthAdjust="spacingAndGlyphs">460±378</tspan></text>
<rect x="1522" y="1133.7" width="18.4" height="17.6" fill="#996600"/>
<text class="legend" y="1150.8"><tspan x="1546.03" textLength="146.07" lengthAdjust="spacingAndGlyphs">Rhizomes:</tspan> <tspan x="1705.62" textLength="144.46" lengthAdjust="spacingAndGlyphs">1392±511</tspan></text>
<rect x="1522" y="1183.6" width="18.4" height="17.7" fill="#000000"/>
<text class="legend" y="1200.5"><tspan x="1546.99" textLength="175.11" lengthAdjust="spacingAndGlyphs">Dead parts:</tspan> <tspan x="1735.9" textLength="106.42" lengthAdjust="spacingAndGlyphs">139±91</tspan></text>
<text class="peak" transform="translate(1970.66 1223.4) scale(1.0641 1)">3628</text>
</g>
</svg></body></html>
